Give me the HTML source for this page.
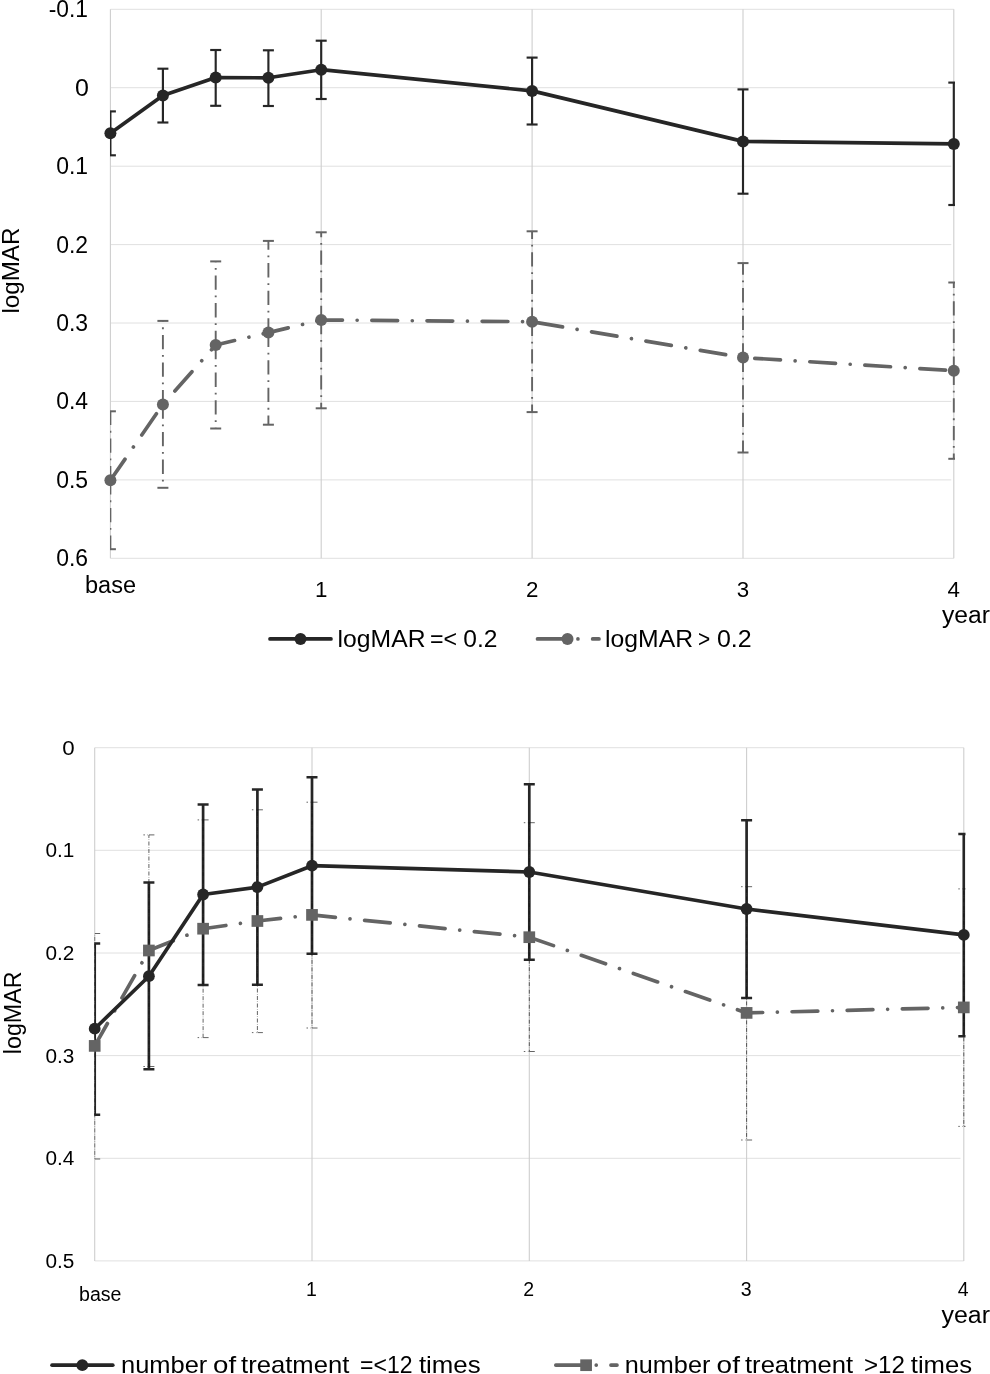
<!DOCTYPE html>
<html><head><meta charset="utf-8"><title>logMAR charts</title>
<style>
html,body{margin:0;padding:0;background:#fff;}
body{width:990px;height:1374px;overflow:hidden;}
svg{display:block;filter:grayscale(1);}
text{font-family:"Liberation Sans",sans-serif;}
</style></head>
<body>
<svg width="990" height="1374" viewBox="0 0 990 1374">
<rect x="0" y="0" width="990" height="1374" fill="#ffffff"/>
<g id="top">
<line x1="110.4" y1="9.3" x2="953.8" y2="9.3" stroke="#e0e0e0" stroke-width="1"/>
<line x1="110.4" y1="87.7" x2="951.3" y2="87.7" stroke="#e0e0e0" stroke-width="1"/>
<line x1="110.4" y1="166.2" x2="951.3" y2="166.2" stroke="#e0e0e0" stroke-width="1"/>
<line x1="110.4" y1="244.6" x2="951.3" y2="244.6" stroke="#e0e0e0" stroke-width="1"/>
<line x1="110.4" y1="323.0" x2="951.3" y2="323.0" stroke="#e0e0e0" stroke-width="1"/>
<line x1="110.4" y1="401.4" x2="951.3" y2="401.4" stroke="#e0e0e0" stroke-width="1"/>
<line x1="110.4" y1="479.9" x2="951.3" y2="479.9" stroke="#e0e0e0" stroke-width="1"/>
<line x1="110.4" y1="558.3" x2="953.8" y2="558.3" stroke="#e0e0e0" stroke-width="1"/>
<line x1="110.4" y1="9.3" x2="110.4" y2="558.3" stroke="#cecece" stroke-width="1.1"/>
<line x1="321.2" y1="9.3" x2="321.2" y2="558.3" stroke="#cecece" stroke-width="1.1"/>
<line x1="532.1" y1="9.3" x2="532.1" y2="558.3" stroke="#cecece" stroke-width="1.1"/>
<line x1="743.0" y1="9.3" x2="743.0" y2="558.3" stroke="#cecece" stroke-width="1.1"/>
<line x1="953.8" y1="9.3" x2="953.8" y2="558.3" stroke="#cecece" stroke-width="1.1"/>
<clipPath id="clipTop"><rect x="109.9" y="0" width="845.2" height="600"/></clipPath>
<g clip-path="url(#clipTop)">
<line x1="110.4" y1="133.3" x2="110.4" y2="111.4" stroke="#262626" stroke-width="2.15"/><line x1="110.4" y1="133.3" x2="110.4" y2="155.3" stroke="#262626" stroke-width="2.15"/><line x1="104.9" y1="111.4" x2="115.9" y2="111.4" stroke="#262626" stroke-width="2.15"/><line x1="104.9" y1="155.3" x2="115.9" y2="155.3" stroke="#262626" stroke-width="2.15"/>
<line x1="162.9" y1="95.5" x2="162.9" y2="68.7" stroke="#262626" stroke-width="2.15"/><line x1="162.9" y1="95.5" x2="162.9" y2="122.5" stroke="#262626" stroke-width="2.15"/><line x1="157.4" y1="68.7" x2="168.4" y2="68.7" stroke="#262626" stroke-width="2.15"/><line x1="157.4" y1="122.5" x2="168.4" y2="122.5" stroke="#262626" stroke-width="2.15"/>
<line x1="215.7" y1="77.5" x2="215.7" y2="50.0" stroke="#262626" stroke-width="2.15"/><line x1="215.7" y1="77.5" x2="215.7" y2="105.8" stroke="#262626" stroke-width="2.15"/><line x1="210.2" y1="50.0" x2="221.2" y2="50.0" stroke="#262626" stroke-width="2.15"/><line x1="210.2" y1="105.8" x2="221.2" y2="105.8" stroke="#262626" stroke-width="2.15"/>
<line x1="268.4" y1="77.8" x2="268.4" y2="50.3" stroke="#262626" stroke-width="2.15"/><line x1="268.4" y1="77.8" x2="268.4" y2="106.0" stroke="#262626" stroke-width="2.15"/><line x1="262.9" y1="50.3" x2="273.9" y2="50.3" stroke="#262626" stroke-width="2.15"/><line x1="262.9" y1="106.0" x2="273.9" y2="106.0" stroke="#262626" stroke-width="2.15"/>
<line x1="321.2" y1="69.7" x2="321.2" y2="40.7" stroke="#262626" stroke-width="2.15"/><line x1="321.2" y1="69.7" x2="321.2" y2="99.0" stroke="#262626" stroke-width="2.15"/><line x1="315.7" y1="40.7" x2="326.7" y2="40.7" stroke="#262626" stroke-width="2.15"/><line x1="315.7" y1="99.0" x2="326.7" y2="99.0" stroke="#262626" stroke-width="2.15"/>
<line x1="532.1" y1="90.9" x2="532.1" y2="57.6" stroke="#262626" stroke-width="2.15"/><line x1="532.1" y1="90.9" x2="532.1" y2="124.5" stroke="#262626" stroke-width="2.15"/><line x1="526.6" y1="57.6" x2="537.6" y2="57.6" stroke="#262626" stroke-width="2.15"/><line x1="526.6" y1="124.5" x2="537.6" y2="124.5" stroke="#262626" stroke-width="2.15"/>
<line x1="743.0" y1="141.4" x2="743.0" y2="89.4" stroke="#262626" stroke-width="2.15"/><line x1="743.0" y1="141.4" x2="743.0" y2="193.7" stroke="#262626" stroke-width="2.15"/><line x1="737.5" y1="89.4" x2="748.5" y2="89.4" stroke="#262626" stroke-width="2.15"/><line x1="737.5" y1="193.7" x2="748.5" y2="193.7" stroke="#262626" stroke-width="2.15"/>
<line x1="953.8" y1="143.9" x2="953.8" y2="82.6" stroke="#262626" stroke-width="2.15"/><line x1="953.8" y1="143.9" x2="953.8" y2="205.0" stroke="#262626" stroke-width="2.15"/><line x1="948.3" y1="82.6" x2="959.3" y2="82.6" stroke="#262626" stroke-width="2.15"/><line x1="948.3" y1="205.0" x2="959.3" y2="205.0" stroke="#262626" stroke-width="2.15"/>
<line x1="110.4" y1="480.3" x2="110.4" y2="411.3" stroke="#646464" stroke-width="1.9" stroke-dasharray="14.3 5.75 1.8 5.75"/><line x1="110.4" y1="480.3" x2="110.4" y2="549.2" stroke="#646464" stroke-width="1.9" stroke-dasharray="14.3 5.75 1.8 5.75"/><line x1="104.9" y1="411.3" x2="115.9" y2="411.3" stroke="#646464" stroke-width="2.0"/><line x1="104.9" y1="549.2" x2="115.9" y2="549.2" stroke="#646464" stroke-width="2.0"/>
<line x1="162.9" y1="404.4" x2="162.9" y2="320.9" stroke="#646464" stroke-width="1.9" stroke-dasharray="14.3 5.75 1.8 5.75"/><line x1="162.9" y1="404.4" x2="162.9" y2="487.8" stroke="#646464" stroke-width="1.9" stroke-dasharray="14.3 5.75 1.8 5.75"/><line x1="157.4" y1="320.9" x2="168.4" y2="320.9" stroke="#646464" stroke-width="2.0"/><line x1="157.4" y1="487.8" x2="168.4" y2="487.8" stroke="#646464" stroke-width="2.0"/>
<line x1="215.7" y1="345.0" x2="215.7" y2="261.4" stroke="#646464" stroke-width="1.9" stroke-dasharray="14.3 5.75 1.8 5.75"/><line x1="215.7" y1="345.0" x2="215.7" y2="428.5" stroke="#646464" stroke-width="1.9" stroke-dasharray="14.3 5.75 1.8 5.75"/><line x1="210.2" y1="261.4" x2="221.2" y2="261.4" stroke="#646464" stroke-width="2.0"/><line x1="210.2" y1="428.5" x2="221.2" y2="428.5" stroke="#646464" stroke-width="2.0"/>
<line x1="268.4" y1="332.6" x2="268.4" y2="240.9" stroke="#646464" stroke-width="1.9" stroke-dasharray="14.3 5.75 1.8 5.75"/><line x1="268.4" y1="332.6" x2="268.4" y2="424.7" stroke="#646464" stroke-width="1.9" stroke-dasharray="14.3 5.75 1.8 5.75"/><line x1="262.9" y1="240.9" x2="273.9" y2="240.9" stroke="#646464" stroke-width="2.0"/><line x1="262.9" y1="424.7" x2="273.9" y2="424.7" stroke="#646464" stroke-width="2.0"/>
<line x1="321.2" y1="320.0" x2="321.2" y2="232.3" stroke="#646464" stroke-width="1.9" stroke-dasharray="14.3 5.75 1.8 5.75"/><line x1="321.2" y1="320.0" x2="321.2" y2="408.3" stroke="#646464" stroke-width="1.9" stroke-dasharray="14.3 5.75 1.8 5.75"/><line x1="315.7" y1="232.3" x2="326.7" y2="232.3" stroke="#646464" stroke-width="2.0"/><line x1="315.7" y1="408.3" x2="326.7" y2="408.3" stroke="#646464" stroke-width="2.0"/>
<line x1="532.1" y1="321.7" x2="532.1" y2="231.3" stroke="#646464" stroke-width="1.9" stroke-dasharray="14.3 5.75 1.8 5.75"/><line x1="532.1" y1="321.7" x2="532.1" y2="412.1" stroke="#646464" stroke-width="1.9" stroke-dasharray="14.3 5.75 1.8 5.75"/><line x1="526.6" y1="231.3" x2="537.6" y2="231.3" stroke="#646464" stroke-width="2.0"/><line x1="526.6" y1="412.1" x2="537.6" y2="412.1" stroke="#646464" stroke-width="2.0"/>
<line x1="743.0" y1="357.6" x2="743.0" y2="263.1" stroke="#646464" stroke-width="1.9" stroke-dasharray="14.3 5.75 1.8 5.75"/><line x1="743.0" y1="357.6" x2="743.0" y2="452.5" stroke="#646464" stroke-width="1.9" stroke-dasharray="14.3 5.75 1.8 5.75"/><line x1="737.5" y1="263.1" x2="748.5" y2="263.1" stroke="#646464" stroke-width="2.0"/><line x1="737.5" y1="452.5" x2="748.5" y2="452.5" stroke="#646464" stroke-width="2.0"/>
<line x1="953.8" y1="370.7" x2="953.8" y2="282.5" stroke="#646464" stroke-width="1.9" stroke-dasharray="14.3 5.75 1.8 5.75"/><line x1="953.8" y1="370.7" x2="953.8" y2="458.8" stroke="#646464" stroke-width="1.9" stroke-dasharray="14.3 5.75 1.8 5.75"/><line x1="948.3" y1="282.5" x2="959.3" y2="282.5" stroke="#646464" stroke-width="2.0"/><line x1="948.3" y1="458.8" x2="959.3" y2="458.8" stroke="#646464" stroke-width="2.0"/>
</g>
<polyline points="110.4,133.3 162.9,95.5 215.7,77.5 268.4,77.8 321.2,69.7 532.1,90.9 743.0,141.4 953.8,143.9" fill="none" stroke="#262626" stroke-width="3.67" stroke-linejoin="round" stroke-linecap="round"/>
<circle cx="110.4" cy="133.3" r="6" fill="#262626"/>
<circle cx="162.9" cy="95.5" r="6" fill="#262626"/>
<circle cx="215.7" cy="77.5" r="6" fill="#262626"/>
<circle cx="268.4" cy="77.8" r="6" fill="#262626"/>
<circle cx="321.2" cy="69.7" r="6" fill="#262626"/>
<circle cx="532.1" cy="90.9" r="6" fill="#262626"/>
<circle cx="743.0" cy="141.4" r="6" fill="#262626"/>
<circle cx="953.8" cy="143.9" r="6" fill="#262626"/>
<polyline points="110.4,480.3 162.9,404.4 215.7,345.0 268.4,332.6 321.2,320.0 532.1,321.7 743.0,357.6 953.8,370.7" fill="none" stroke="#646464" stroke-width="3.67" stroke-linejoin="round" stroke-linecap="round" stroke-dasharray="25.73 14.7 0.01 14.7"/>
<circle cx="110.4" cy="480.3" r="6" fill="#646464"/>
<circle cx="162.9" cy="404.4" r="6" fill="#646464"/>
<circle cx="215.7" cy="345.0" r="6" fill="#646464"/>
<circle cx="268.4" cy="332.6" r="6" fill="#646464"/>
<circle cx="321.2" cy="320.0" r="6" fill="#646464"/>
<circle cx="532.1" cy="321.7" r="6" fill="#646464"/>
<circle cx="743.0" cy="357.6" r="6" fill="#646464"/>
<circle cx="953.8" cy="370.7" r="6" fill="#646464"/>
<text x="48.7" y="17.3" style="font-family:'Liberation Sans',sans-serif;font-size:23.3px" fill="#000" textLength="39.3" lengthAdjust="spacingAndGlyphs">-0.1</text>
<text x="74.9" y="95.7" style="font-family:'Liberation Sans',sans-serif;font-size:23.3px" fill="#000" textLength="13.9" lengthAdjust="spacingAndGlyphs">0</text>
<text x="56.2" y="174.2" style="font-family:'Liberation Sans',sans-serif;font-size:23.3px" fill="#000" textLength="31.9" lengthAdjust="spacingAndGlyphs">0.1</text>
<text x="56.2" y="252.6" style="font-family:'Liberation Sans',sans-serif;font-size:23.3px" fill="#000" textLength="31.9" lengthAdjust="spacingAndGlyphs">0.2</text>
<text x="56.2" y="331.0" style="font-family:'Liberation Sans',sans-serif;font-size:23.3px" fill="#000" textLength="31.9" lengthAdjust="spacingAndGlyphs">0.3</text>
<text x="56.2" y="409.4" style="font-family:'Liberation Sans',sans-serif;font-size:23.3px" fill="#000" textLength="31.9" lengthAdjust="spacingAndGlyphs">0.4</text>
<text x="56.2" y="487.9" style="font-family:'Liberation Sans',sans-serif;font-size:23.3px" fill="#000" textLength="31.9" lengthAdjust="spacingAndGlyphs">0.5</text>
<text x="56.2" y="566.3" style="font-family:'Liberation Sans',sans-serif;font-size:23.3px" fill="#000" textLength="31.9" lengthAdjust="spacingAndGlyphs">0.6</text>
<text x="85" y="592.7" style="font-family:'Liberation Sans',sans-serif;font-size:23px" fill="#000" textLength="51" lengthAdjust="spacingAndGlyphs">base</text>
<text x="321.2" y="597" text-anchor="middle" style="font-family:'Liberation Sans',sans-serif;font-size:22.3px" fill="#000">1</text>
<text x="532.1" y="597" text-anchor="middle" style="font-family:'Liberation Sans',sans-serif;font-size:22.3px" fill="#000">2</text>
<text x="743.0" y="597" text-anchor="middle" style="font-family:'Liberation Sans',sans-serif;font-size:22.3px" fill="#000">3</text>
<text x="953.8" y="597" text-anchor="middle" style="font-family:'Liberation Sans',sans-serif;font-size:22.3px" fill="#000">4</text>
<text x="942" y="623" style="font-family:'Liberation Sans',sans-serif;font-size:23px" fill="#000" textLength="48" lengthAdjust="spacingAndGlyphs">year</text>
<text transform="translate(18.9,313.6) rotate(-90)" style="font-family:'Liberation Sans',sans-serif;font-size:23.7px" fill="#000" textLength="86" lengthAdjust="spacingAndGlyphs">logMAR</text>
<line x1="270" y1="638.9" x2="331" y2="638.9" stroke="#262626" stroke-width="3.67" stroke-linecap="round"/>
<circle cx="300.5" cy="638.9" r="6" fill="#262626"/>
<text x="337.6" y="646.7" style="font-family:'Liberation Sans',sans-serif;font-size:24px" fill="#000" textLength="87.9" lengthAdjust="spacingAndGlyphs">logMAR</text>
<text x="430.0" y="646.7" style="font-family:'Liberation Sans',sans-serif;font-size:24px" fill="#000" textLength="27.1" lengthAdjust="spacingAndGlyphs">=&lt;</text>
<text x="463.3" y="646.7" style="font-family:'Liberation Sans',sans-serif;font-size:24px" fill="#000" textLength="34.2" lengthAdjust="spacingAndGlyphs">0.2</text>
<line x1="537.5" y1="638.9" x2="599" y2="638.9" stroke="#646464" stroke-width="3.67" stroke-linecap="round" stroke-dasharray="25.73 14.7 0.01 14.7"/>
<circle cx="567.5" cy="638.9" r="6" fill="#646464"/>
<text x="605.1" y="646.7" style="font-family:'Liberation Sans',sans-serif;font-size:24px" fill="#000" textLength="87.9" lengthAdjust="spacingAndGlyphs">logMAR</text>
<text x="698.0" y="646.7" style="font-family:'Liberation Sans',sans-serif;font-size:24px" fill="#000" textLength="12.2" lengthAdjust="spacingAndGlyphs">&gt;</text>
<text x="716.9" y="646.7" style="font-family:'Liberation Sans',sans-serif;font-size:24px" fill="#000" textLength="34.7" lengthAdjust="spacingAndGlyphs">0.2</text>
</g>
<g id="bot">
<line x1="94.7" y1="747.7" x2="963.8" y2="747.7" stroke="#e0e0e0" stroke-width="1"/>
<line x1="94.7" y1="850.3" x2="960.5" y2="850.3" stroke="#e0e0e0" stroke-width="1"/>
<line x1="94.7" y1="953.0" x2="960.5" y2="953.0" stroke="#e0e0e0" stroke-width="1"/>
<line x1="94.7" y1="1055.6" x2="960.5" y2="1055.6" stroke="#e0e0e0" stroke-width="1"/>
<line x1="94.7" y1="1158.3" x2="960.5" y2="1158.3" stroke="#e0e0e0" stroke-width="1"/>
<line x1="94.7" y1="1260.9" x2="963.8" y2="1260.9" stroke="#e0e0e0" stroke-width="1"/>
<line x1="94.7" y1="747.7" x2="94.7" y2="1260.9" stroke="#cecece" stroke-width="1.1"/>
<line x1="312.0" y1="747.7" x2="312.0" y2="1260.9" stroke="#cecece" stroke-width="1.1"/>
<line x1="529.3" y1="747.7" x2="529.3" y2="1260.9" stroke="#cecece" stroke-width="1.1"/>
<line x1="746.6" y1="747.7" x2="746.6" y2="1260.9" stroke="#cecece" stroke-width="1.1"/>
<line x1="963.8" y1="747.7" x2="963.8" y2="1260.9" stroke="#cecece" stroke-width="1.1"/>
<clipPath id="clipBot"><rect x="94.3" y="700" width="871.2" height="600"/></clipPath>
<g clip-path="url(#clipBot)">
<line x1="94.7" y1="1028.7" x2="94.7" y2="943.4" stroke="#262626" stroke-width="2.7"/><line x1="94.7" y1="1028.7" x2="94.7" y2="1114.7" stroke="#262626" stroke-width="2.7"/><line x1="89.2" y1="943.4" x2="100.2" y2="943.4" stroke="#262626" stroke-width="2.5"/><line x1="89.2" y1="1114.7" x2="100.2" y2="1114.7" stroke="#262626" stroke-width="2.5"/>
<line x1="148.9" y1="976.2" x2="148.9" y2="882.4" stroke="#262626" stroke-width="2.7"/><line x1="148.9" y1="976.2" x2="148.9" y2="1069.3" stroke="#262626" stroke-width="2.7"/><line x1="143.4" y1="882.4" x2="154.4" y2="882.4" stroke="#262626" stroke-width="2.5"/><line x1="143.4" y1="1069.3" x2="154.4" y2="1069.3" stroke="#262626" stroke-width="2.5"/>
<line x1="203.1" y1="894.5" x2="203.1" y2="804.5" stroke="#262626" stroke-width="2.7"/><line x1="203.1" y1="894.5" x2="203.1" y2="985.0" stroke="#262626" stroke-width="2.7"/><line x1="197.6" y1="804.5" x2="208.6" y2="804.5" stroke="#262626" stroke-width="2.5"/><line x1="197.6" y1="985.0" x2="208.6" y2="985.0" stroke="#262626" stroke-width="2.5"/>
<line x1="257.4" y1="887.1" x2="257.4" y2="789.4" stroke="#262626" stroke-width="2.7"/><line x1="257.4" y1="887.1" x2="257.4" y2="984.7" stroke="#262626" stroke-width="2.7"/><line x1="251.89999999999998" y1="789.4" x2="262.9" y2="789.4" stroke="#262626" stroke-width="2.5"/><line x1="251.89999999999998" y1="984.7" x2="262.9" y2="984.7" stroke="#262626" stroke-width="2.5"/>
<line x1="312.0" y1="865.7" x2="312.0" y2="777.3" stroke="#262626" stroke-width="2.7"/><line x1="312.0" y1="865.7" x2="312.0" y2="953.7" stroke="#262626" stroke-width="2.7"/><line x1="306.5" y1="777.3" x2="317.5" y2="777.3" stroke="#262626" stroke-width="2.5"/><line x1="306.5" y1="953.7" x2="317.5" y2="953.7" stroke="#262626" stroke-width="2.5"/>
<line x1="529.3" y1="872.0" x2="529.3" y2="784.2" stroke="#262626" stroke-width="2.7"/><line x1="529.3" y1="872.0" x2="529.3" y2="959.8" stroke="#262626" stroke-width="2.7"/><line x1="523.8" y1="784.2" x2="534.8" y2="784.2" stroke="#262626" stroke-width="2.5"/><line x1="523.8" y1="959.8" x2="534.8" y2="959.8" stroke="#262626" stroke-width="2.5"/>
<line x1="746.6" y1="909.0" x2="746.6" y2="820.3" stroke="#262626" stroke-width="2.7"/><line x1="746.6" y1="909.0" x2="746.6" y2="998.0" stroke="#262626" stroke-width="2.7"/><line x1="741.1" y1="820.3" x2="752.1" y2="820.3" stroke="#262626" stroke-width="2.5"/><line x1="741.1" y1="998.0" x2="752.1" y2="998.0" stroke="#262626" stroke-width="2.5"/>
<line x1="963.8" y1="934.9" x2="963.8" y2="833.9" stroke="#262626" stroke-width="2.7"/><line x1="963.8" y1="934.9" x2="963.8" y2="1036.2" stroke="#262626" stroke-width="2.7"/><line x1="958.3" y1="833.9" x2="969.3" y2="833.9" stroke="#262626" stroke-width="2.5"/><line x1="958.3" y1="1036.2" x2="969.3" y2="1036.2" stroke="#262626" stroke-width="2.5"/>
<line x1="94.7" y1="1045.9" x2="94.7" y2="933.5" stroke="#111" stroke-width="0.65" stroke-dasharray="4 1.5 0.5 1.5"/><line x1="94.7" y1="1045.9" x2="94.7" y2="1159.0" stroke="#111" stroke-width="0.65" stroke-dasharray="4 1.5 0.5 1.5"/><line x1="89.2" y1="933.5" x2="100.2" y2="933.5" stroke="#111" stroke-width="0.65" stroke-dasharray="1.5 2.6 0.5 1 6"/><line x1="89.2" y1="1159.0" x2="100.2" y2="1159.0" stroke="#111" stroke-width="0.65" stroke-dasharray="1.5 2.6 0.5 1 6"/>
<line x1="148.9" y1="950.5" x2="148.9" y2="834.9" stroke="#111" stroke-width="0.65" stroke-dasharray="4 1.5 0.5 1.5"/><line x1="148.9" y1="950.5" x2="148.9" y2="1066.5" stroke="#111" stroke-width="0.65" stroke-dasharray="4 1.5 0.5 1.5"/><line x1="143.4" y1="834.9" x2="154.4" y2="834.9" stroke="#111" stroke-width="0.65" stroke-dasharray="1.5 2.6 0.5 1 6"/><line x1="143.4" y1="1066.5" x2="154.4" y2="1066.5" stroke="#111" stroke-width="0.65" stroke-dasharray="1.5 2.6 0.5 1 6"/>
<line x1="203.1" y1="928.7" x2="203.1" y2="819.9" stroke="#111" stroke-width="0.65" stroke-dasharray="4 1.5 0.5 1.5"/><line x1="203.1" y1="928.7" x2="203.1" y2="1037.6" stroke="#111" stroke-width="0.65" stroke-dasharray="4 1.5 0.5 1.5"/><line x1="197.6" y1="819.9" x2="208.6" y2="819.9" stroke="#111" stroke-width="0.65" stroke-dasharray="1.5 2.6 0.5 1 6"/><line x1="197.6" y1="1037.6" x2="208.6" y2="1037.6" stroke="#111" stroke-width="0.65" stroke-dasharray="1.5 2.6 0.5 1 6"/>
<line x1="257.4" y1="921.0" x2="257.4" y2="809.8" stroke="#111" stroke-width="0.65" stroke-dasharray="4 1.5 0.5 1.5"/><line x1="257.4" y1="921.0" x2="257.4" y2="1032.6" stroke="#111" stroke-width="0.65" stroke-dasharray="4 1.5 0.5 1.5"/><line x1="251.89999999999998" y1="809.8" x2="262.9" y2="809.8" stroke="#111" stroke-width="0.65" stroke-dasharray="1.5 2.6 0.5 1 6"/><line x1="251.89999999999998" y1="1032.6" x2="262.9" y2="1032.6" stroke="#111" stroke-width="0.65" stroke-dasharray="1.5 2.6 0.5 1 6"/>
<line x1="312.0" y1="914.9" x2="312.0" y2="802.2" stroke="#111" stroke-width="0.65" stroke-dasharray="4 1.5 0.5 1.5"/><line x1="312.0" y1="914.9" x2="312.0" y2="1028.0" stroke="#111" stroke-width="0.65" stroke-dasharray="4 1.5 0.5 1.5"/><line x1="306.5" y1="802.2" x2="317.5" y2="802.2" stroke="#111" stroke-width="0.65" stroke-dasharray="1.5 2.6 0.5 1 6"/><line x1="306.5" y1="1028.0" x2="317.5" y2="1028.0" stroke="#111" stroke-width="0.65" stroke-dasharray="1.5 2.6 0.5 1 6"/>
<line x1="529.3" y1="937.2" x2="529.3" y2="822.7" stroke="#111" stroke-width="0.65" stroke-dasharray="4 1.5 0.5 1.5"/><line x1="529.3" y1="937.2" x2="529.3" y2="1051.5" stroke="#111" stroke-width="0.65" stroke-dasharray="4 1.5 0.5 1.5"/><line x1="523.8" y1="822.7" x2="534.8" y2="822.7" stroke="#111" stroke-width="0.65" stroke-dasharray="1.5 2.6 0.5 1 6"/><line x1="523.8" y1="1051.5" x2="534.8" y2="1051.5" stroke="#111" stroke-width="0.65" stroke-dasharray="1.5 2.6 0.5 1 6"/>
<line x1="746.6" y1="1012.9" x2="746.6" y2="886.7" stroke="#111" stroke-width="0.65" stroke-dasharray="4 1.5 0.5 1.5"/><line x1="746.6" y1="1012.9" x2="746.6" y2="1140.0" stroke="#111" stroke-width="0.65" stroke-dasharray="4 1.5 0.5 1.5"/><line x1="741.1" y1="886.7" x2="752.1" y2="886.7" stroke="#111" stroke-width="0.65" stroke-dasharray="1.5 2.6 0.5 1 6"/><line x1="741.1" y1="1140.0" x2="752.1" y2="1140.0" stroke="#111" stroke-width="0.65" stroke-dasharray="1.5 2.6 0.5 1 6"/>
<line x1="963.8" y1="1007.4" x2="963.8" y2="888.9" stroke="#111" stroke-width="0.65" stroke-dasharray="4 1.5 0.5 1.5"/><line x1="963.8" y1="1007.4" x2="963.8" y2="1126.4" stroke="#111" stroke-width="0.65" stroke-dasharray="4 1.5 0.5 1.5"/><line x1="958.3" y1="888.9" x2="969.3" y2="888.9" stroke="#111" stroke-width="0.65" stroke-dasharray="1.5 2.6 0.5 1 6"/><line x1="958.3" y1="1126.4" x2="969.3" y2="1126.4" stroke="#111" stroke-width="0.65" stroke-dasharray="1.5 2.6 0.5 1 6"/>
</g>
<polyline points="94.7,1045.9 148.9,950.5 203.1,928.7 257.4,921.0 312.0,914.9 529.3,937.2 746.6,1012.9 963.8,1007.4" fill="none" stroke="#646464" stroke-width="3.67" stroke-linejoin="round" stroke-linecap="round" stroke-dasharray="25.73 14.7 0.01 14.7"/>
<rect x="88.85" y="1040.05" width="11.7" height="11.7" fill="#646464"/>
<rect x="143.05" y="944.65" width="11.7" height="11.7" fill="#646464"/>
<rect x="197.25" y="922.85" width="11.7" height="11.7" fill="#646464"/>
<rect x="251.55" y="915.15" width="11.7" height="11.7" fill="#646464"/>
<rect x="306.15" y="909.05" width="11.7" height="11.7" fill="#646464"/>
<rect x="523.45" y="931.35" width="11.7" height="11.7" fill="#646464"/>
<rect x="740.75" y="1007.05" width="11.7" height="11.7" fill="#646464"/>
<rect x="957.95" y="1001.55" width="11.7" height="11.7" fill="#646464"/>
<polyline points="94.7,1028.7 148.9,976.2 203.1,894.5 257.4,887.1 312.0,865.7 529.3,872.0 746.6,909.0 963.8,934.9" fill="none" stroke="#262626" stroke-width="3.67" stroke-linejoin="round" stroke-linecap="round"/>
<circle cx="94.7" cy="1028.7" r="5.9" fill="#262626"/>
<circle cx="148.9" cy="976.2" r="5.9" fill="#262626"/>
<circle cx="203.1" cy="894.5" r="5.9" fill="#262626"/>
<circle cx="257.4" cy="887.1" r="5.9" fill="#262626"/>
<circle cx="312.0" cy="865.7" r="5.9" fill="#262626"/>
<circle cx="529.3" cy="872.0" r="5.9" fill="#262626"/>
<circle cx="746.6" cy="909.0" r="5.9" fill="#262626"/>
<circle cx="963.8" cy="934.9" r="5.9" fill="#262626"/>
<text x="62.3" y="754.6" style="font-family:'Liberation Sans',sans-serif;font-size:20.3px" fill="#000" textLength="12.4" lengthAdjust="spacingAndGlyphs">0</text>
<text x="45.5" y="857.2" style="font-family:'Liberation Sans',sans-serif;font-size:20.3px" fill="#000" textLength="28.9" lengthAdjust="spacingAndGlyphs">0.1</text>
<text x="45.5" y="959.9" style="font-family:'Liberation Sans',sans-serif;font-size:20.3px" fill="#000" textLength="28.9" lengthAdjust="spacingAndGlyphs">0.2</text>
<text x="45.5" y="1062.5" style="font-family:'Liberation Sans',sans-serif;font-size:20.3px" fill="#000" textLength="28.9" lengthAdjust="spacingAndGlyphs">0.3</text>
<text x="45.5" y="1165.2" style="font-family:'Liberation Sans',sans-serif;font-size:20.3px" fill="#000" textLength="28.9" lengthAdjust="spacingAndGlyphs">0.4</text>
<text x="45.5" y="1267.8" style="font-family:'Liberation Sans',sans-serif;font-size:20.3px" fill="#000" textLength="28.9" lengthAdjust="spacingAndGlyphs">0.5</text>
<text x="79" y="1300.9" style="font-family:'Liberation Sans',sans-serif;font-size:19.5px" fill="#000" textLength="42.5" lengthAdjust="spacingAndGlyphs">base</text>
<text x="311.5" y="1295.8" text-anchor="middle" style="font-family:'Liberation Sans',sans-serif;font-size:19.5px" fill="#000">1</text>
<text x="528.8" y="1295.8" text-anchor="middle" style="font-family:'Liberation Sans',sans-serif;font-size:19.5px" fill="#000">2</text>
<text x="746.1" y="1295.8" text-anchor="middle" style="font-family:'Liberation Sans',sans-serif;font-size:19.5px" fill="#000">3</text>
<text x="963.3" y="1295.8" text-anchor="middle" style="font-family:'Liberation Sans',sans-serif;font-size:19.5px" fill="#000">4</text>
<text x="941.5" y="1323.4" style="font-family:'Liberation Sans',sans-serif;font-size:23px" fill="#000" textLength="48.5" lengthAdjust="spacingAndGlyphs">year</text>
<text transform="translate(21,1054.2) rotate(-90)" style="font-family:'Liberation Sans',sans-serif;font-size:23.3px" fill="#000" textLength="82.7" lengthAdjust="spacingAndGlyphs">logMAR</text>
<line x1="52" y1="1365.2" x2="112.8" y2="1365.2" stroke="#262626" stroke-width="3.67" stroke-linecap="round"/>
<circle cx="82.3" cy="1365.2" r="5.9" fill="#262626"/>
<text x="121.0" y="1372.6" style="font-family:'Liberation Sans',sans-serif;font-size:24px" fill="#000" textLength="86.3" lengthAdjust="spacingAndGlyphs">number</text>
<text x="213.1" y="1372.6" style="font-family:'Liberation Sans',sans-serif;font-size:24px" fill="#000" textLength="23.0" lengthAdjust="spacingAndGlyphs">of</text>
<text x="241.1" y="1372.6" style="font-family:'Liberation Sans',sans-serif;font-size:24px" fill="#000" textLength="108.2" lengthAdjust="spacingAndGlyphs">treatment</text>
<text x="360.1" y="1372.6" style="font-family:'Liberation Sans',sans-serif;font-size:24px" fill="#000" textLength="52.5" lengthAdjust="spacingAndGlyphs">=&lt;12</text>
<text x="418.9" y="1372.6" style="font-family:'Liberation Sans',sans-serif;font-size:24px" fill="#000" textLength="61.7" lengthAdjust="spacingAndGlyphs">times</text>
<line x1="555.8" y1="1365.2" x2="617" y2="1365.2" stroke="#646464" stroke-width="3.67" stroke-linecap="round" stroke-dasharray="25.73 14.7 0.01 14.7"/>
<rect x="580.25" y="1359.3500000000001" width="11.7" height="11.7" fill="#646464"/>
<text x="624.8" y="1372.6" style="font-family:'Liberation Sans',sans-serif;font-size:24px" fill="#000" textLength="85.5" lengthAdjust="spacingAndGlyphs">number</text>
<text x="716.6" y="1372.6" style="font-family:'Liberation Sans',sans-serif;font-size:24px" fill="#000" textLength="23.3" lengthAdjust="spacingAndGlyphs">of</text>
<text x="745.0" y="1372.6" style="font-family:'Liberation Sans',sans-serif;font-size:24px" fill="#000" textLength="108.1" lengthAdjust="spacingAndGlyphs">treatment</text>
<text x="864.0" y="1372.6" style="font-family:'Liberation Sans',sans-serif;font-size:24px" fill="#000" textLength="41.0" lengthAdjust="spacingAndGlyphs">&gt;12</text>
<text x="910.8" y="1372.6" style="font-family:'Liberation Sans',sans-serif;font-size:24px" fill="#000" textLength="61.3" lengthAdjust="spacingAndGlyphs">times</text>
</g>
</svg>
</body></html>
